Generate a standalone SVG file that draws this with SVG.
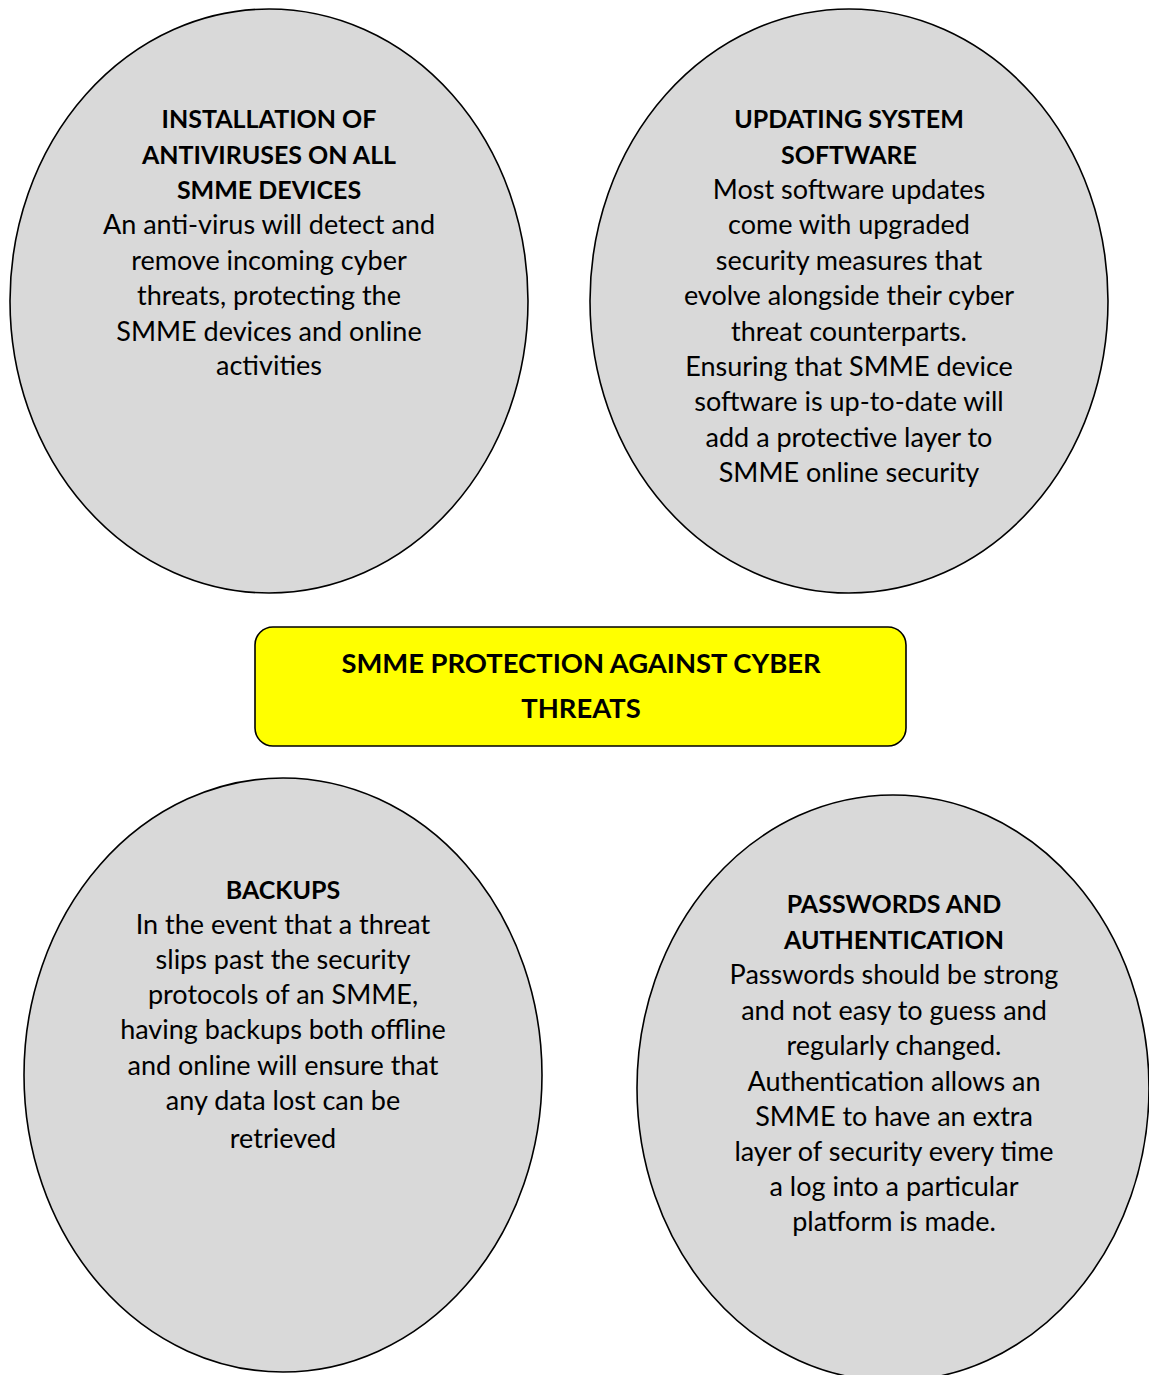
<svg xmlns="http://www.w3.org/2000/svg" width="1149" height="1375" viewBox="0 0 1149 1375">
<style>
.bubble{fill:#d9d9d9;stroke:#000;stroke-width:1.6}
.hub{fill:#ffff00;stroke:#000;stroke-width:1.6}
text{font-family:Lato,"Open Sans","Liberation Sans",sans-serif;font-size:27px;fill:#000;text-anchor:middle}
.h{font-weight:bold;font-size:25px}
.t{font-weight:bold;font-size:27.4px}
</style>
<rect width="1149" height="1375" fill="#fff"/>
<g id="connectors"></g>
<g id="node-antivirus">
<ellipse class="bubble" cx="269" cy="301" rx="259" ry="292"/>
<text x="269" y="128" class="h">INSTALLATION OF</text>
<text x="269" y="163.5" class="h">ANTIVIRUSES ON ALL</text>
<text x="269" y="199" class="h">SMME DEVICES</text>
<text x="269" y="234">An anti-virus will detect and</text>
<text x="269" y="269.5">remove incoming cyber</text>
<text x="269" y="305">threats, protecting the</text>
<text x="269" y="340.5">SMME devices and online</text>
<text x="269" y="375">activities</text>
</g>
<g id="node-updating">
<ellipse class="bubble" cx="849" cy="301" rx="259" ry="292"/>
<text x="849" y="128" class="h">UPDATING SYSTEM</text>
<text x="849" y="163.5" class="h">SOFTWARE</text>
<text x="849" y="199">Most software updates</text>
<text x="849" y="234">come with upgraded</text>
<text x="849" y="269.5">security measures that</text>
<text x="849" y="305">evolve alongside their cyber</text>
<text x="849" y="340.5">threat counterparts.</text>
<text x="849" y="376">Ensuring that SMME device</text>
<text x="849" y="411">software is up-to-date will</text>
<text x="849" y="446.5">add a protective layer to</text>
<text x="849" y="482">SMME online security</text>
</g>
<g id="node-center">
<rect class="hub" x="255" y="627" width="651" height="119" rx="18" ry="18"/>
<text x="581" y="673" class="t">SMME PROTECTION AGAINST CYBER</text>
<text x="581" y="718" class="t">THREATS</text>
</g>
<g id="node-backups">
<ellipse class="bubble" cx="283" cy="1075" rx="259" ry="297"/>
<text x="283" y="899" class="h">BACKUPS</text>
<text x="283" y="934">In the event that a threat</text>
<text x="283" y="969">slips past the security</text>
<text x="283" y="1004">protocols of an SMME,</text>
<text x="283" y="1039">having backups both offline</text>
<text x="283" y="1075">and online will ensure that</text>
<text x="283" y="1110">any data lost can be</text>
<text x="283" y="1148">retrieved</text>
</g>
<g id="node-passwords">
<ellipse class="bubble" cx="893" cy="1088" rx="256" ry="293"/>
<text x="894" y="913" class="h">PASSWORDS AND</text>
<text x="894" y="948.5" class="h">AUTHENTICATION</text>
<text x="894" y="984">Passwords should be strong</text>
<text x="894" y="1019.5">and not easy to guess and</text>
<text x="894" y="1055">regularly changed.</text>
<text x="894" y="1091">Authentication allows an</text>
<text x="894" y="1126">SMME to have an extra</text>
<text x="894" y="1160.5">layer of security every time</text>
<text x="894" y="1195.5">a log into a particular</text>
<text x="894" y="1230.5">platform is made.</text>
</g>
</svg>
